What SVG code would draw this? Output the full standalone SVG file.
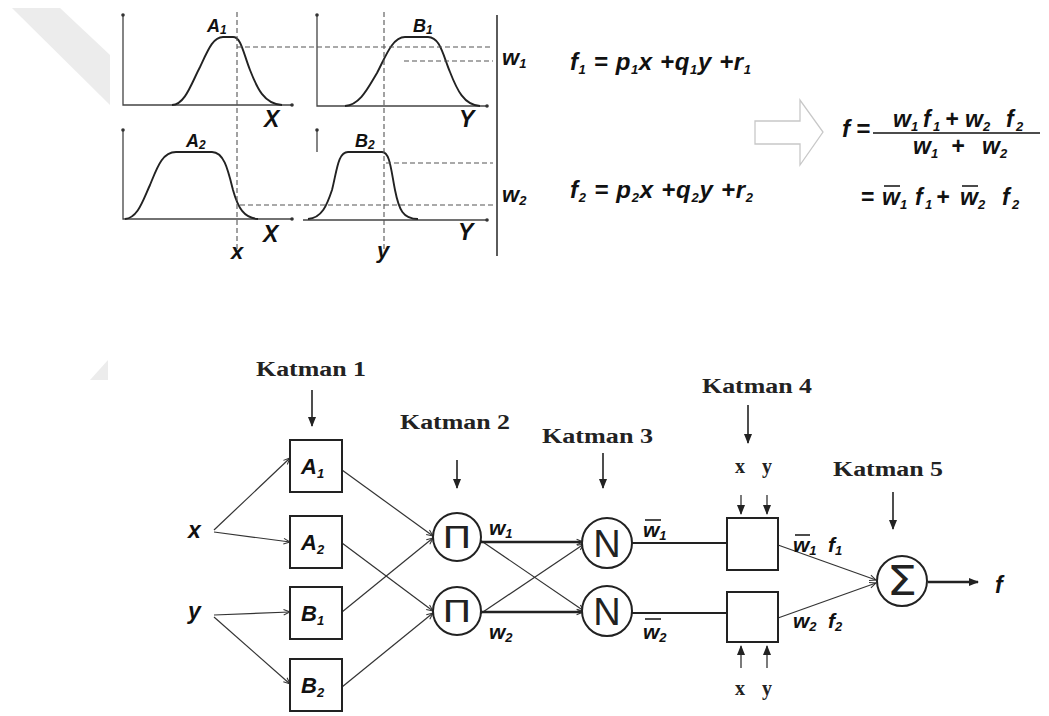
<svg xmlns="http://www.w3.org/2000/svg" width="1049" height="716" viewBox="0 0 1049 716">
<defs>
<style>
.wm{fill:#ececec}
.ax{stroke:#444;stroke-width:1.3;fill:none}
.crv{stroke:#222;stroke-width:1.9;fill:none}
.dash{stroke:#555;stroke-width:1.1;stroke-dasharray:5 3;fill:none}
.bi{font-family:"Liberation Sans",Arial,sans-serif;font-weight:bold;font-style:italic;fill:#111}
.sub{font-size:13px}
.kat{font-family:"Liberation Serif","Times New Roman",serif;font-weight:bold;font-size:20px;fill:#222}
.node{fill:#fff;stroke:#222;stroke-width:2}
.ln{stroke:#333;stroke-width:1.2;fill:none}
.thick{stroke:#222;stroke-width:2.6;fill:none}
.med{stroke:#222;stroke-width:1.8;fill:none}
.bar{stroke:#111;stroke-width:1.5}
.sym{fill:#222}
</style>
<marker id="open" viewBox="0 0 10 10" refX="9" refY="5" markerWidth="8" markerHeight="8" orient="auto" markerUnits="userSpaceOnUse"><path d="M1,1.5 L9,5 L1,8.5" fill="none" stroke="#333" stroke-width="1.3"/></marker>
<marker id="solid" viewBox="0 0 10 10" refX="9" refY="5" markerWidth="10" markerHeight="10" orient="auto" markerUnits="userSpaceOnUse"><path d="M0,1 L10,5 L0,9 z" fill="#222"/></marker>
</defs>
<rect width="1049" height="716" fill="#fff"/>
<polygon class="wm" points="12,8 60,8 110,55 110,105"/>
<polygon class="wm" points="108,360 108,380 90,380"/>

<g id="fuzzy-graphs">
<path class="ax" d="M123,15 V105 H292"/>
<path class="ax" d="M317,15 V106 H487"/>
<path class="ax" d="M123,130 V219 H292"/>
<path class="ax" d="M317,130 V152 M303,220 H487"/>
<g fill="#333"><circle cx="123" cy="15" r="1.8"/><circle cx="317" cy="15" r="1.8"/><circle cx="123" cy="130" r="1.8"/><circle cx="317" cy="130" r="1.8"/><circle cx="292" cy="105" r="1.8"/><circle cx="487" cy="106" r="1.8"/><circle cx="292" cy="219" r="1.8"/><circle cx="487" cy="220" r="1.8"/></g>
<path class="crv" d="M172,105 C185,105 192,82 200,67 C208,50 213,37 223,37 L233,37 C241,37 243,52 250,70 C257,88 264,104 282,105"/>
<path class="crv" d="M345,106 C360,105 368,88 377,73 C385,58 392,37 405,37 L428,37 C440,37 443,55 450,72 C457,90 464,105 480,106"/>
<path class="crv" d="M125,219 C138,218 143,200 150,185 C157,168 162,152 176,152 L212,152 C224,152 228,170 233,190 C238,208 244,218 258,219"/>
<path class="crv" d="M308,219 C322,218 327,205 332,190 C337,170 338,152 348,152 L382,152 C390,152 391,170 395,190 C399,210 403,219 418,219"/>
<path class="dash" d="M237,12 V250 M384,12 V252 M237,47 H493 M404,61 H493 M386,163 H493 M240,205 H493"/>
<path d="M497,15 V256" stroke="#333" stroke-width="1.6"/>
<text class="bi" font-size="18" x="207" y="32">A<tspan font-size="12" dy="2">1</tspan></text>
<text class="bi" font-size="18" x="413" y="32">B<tspan font-size="12" dy="2">1</tspan></text>
<text class="bi" font-size="18" x="186" y="147">A<tspan font-size="12" dy="2">2</tspan></text>
<text class="bi" font-size="18" x="355" y="147">B<tspan font-size="12" dy="2">2</tspan></text>
<text class="bi" font-size="23" x="264" y="127">X</text>
<text class="bi" font-size="23" x="459" y="127">Y</text>
<text class="bi" font-size="23" x="263" y="242">X</text>
<text class="bi" font-size="23" x="458" y="240">Y</text>
<text class="bi" font-size="22" x="231" y="259">x</text>
<text class="bi" font-size="22" x="377" y="258">y</text>
<text class="bi" font-size="22" x="502" y="65">w<tspan font-size="13" dy="3">1</tspan></text>
<text class="bi" font-size="22" x="502" y="202">w<tspan font-size="13" dy="3">2</tspan></text>
</g>

<g id="formulas">
<text class="bi" font-size="24" x="570" y="70" textLength="181" lengthAdjust="spacing">f<tspan class="sub" dy="4">1</tspan><tspan dy="-4"> = p</tspan><tspan class="sub" dy="4">1</tspan><tspan dy="-4">x +q</tspan><tspan class="sub" dy="4">1</tspan><tspan dy="-4">y +r</tspan><tspan class="sub" dy="4">1</tspan></text>
<text class="bi" font-size="24" x="570" y="198" textLength="183" lengthAdjust="spacing">f<tspan class="sub" dy="4">2</tspan><tspan dy="-4"> = p</tspan><tspan class="sub" dy="4">2</tspan><tspan dy="-4">x +q</tspan><tspan class="sub" dy="4">2</tspan><tspan dy="-4">y +r</tspan><tspan class="sub" dy="4">2</tspan></text>
<polygon points="755,121 800,121 800,100 823,132 800,165 800,144 755,144" fill="none" stroke="#c8c8c8" stroke-width="1.3"/>
<text class="bi" font-size="24" x="842" y="137">f</text>
<text class="bi" font-size="24" x="856" y="137" font-style="normal">=</text>
<path d="M873,133 H1040" stroke="#111" stroke-width="1.5"/>
<text class="bi" font-size="23" y="127"><tspan x="893">w</tspan><tspan class="sub" x="911" dy="4">1</tspan><tspan x="923" dy="-4">f</tspan><tspan class="sub" x="933" dy="4">1</tspan><tspan x="945" dy="-4">+</tspan><tspan x="965">w</tspan><tspan class="sub" x="983" dy="4">2</tspan><tspan x="1006" dy="-4">f</tspan><tspan class="sub" x="1016" dy="4">2</tspan></text>
<text class="bi" font-size="23" y="154"><tspan x="913">w</tspan><tspan class="sub" x="931" dy="4">1</tspan><tspan x="951" dy="-4">+</tspan><tspan x="982">w</tspan><tspan class="sub" x="1000" dy="4">2</tspan></text>
<text class="bi" font-size="23" y="205"><tspan x="861" font-style="normal">=</tspan><tspan x="882">w</tspan><tspan class="sub" x="900" dy="4">1</tspan><tspan x="915" dy="-4">f</tspan><tspan class="sub" x="925" dy="4">1</tspan><tspan x="936" dy="-4">+</tspan><tspan x="960">w</tspan><tspan class="sub" x="978" dy="4">2</tspan><tspan x="1002" dy="-4">f</tspan><tspan class="sub" x="1012" dy="4">2</tspan></text>
<path class="bar" d="M884,186 H900 M962,186 H978"/>
</g>

<g id="layer-labels">
<text class="kat" x="256" y="376" textLength="110" lengthAdjust="spacingAndGlyphs">Katman 1</text>
<text class="kat" x="400" y="429" textLength="110" lengthAdjust="spacingAndGlyphs">Katman 2</text>
<text class="kat" x="542" y="443" textLength="111" lengthAdjust="spacingAndGlyphs">Katman 3</text>
<text class="kat" x="702" y="393" textLength="110" lengthAdjust="spacingAndGlyphs">Katman 4</text>
<text class="kat" x="833" y="476" textLength="110" lengthAdjust="spacingAndGlyphs">Katman 5</text>
<text class="kat" font-size="21" x="735" y="473" textLength="37" lengthAdjust="spacing">x y</text>
<text class="kat" font-size="21" x="735" y="695" textLength="37" lengthAdjust="spacing">x y</text>
</g>

<g id="connectors">
<g stroke="#222" stroke-width="1.6" fill="none" marker-end="url(#solid)">
<path d="M312,390 V426"/>
<path d="M457,460 V488"/>
<path d="M603,453 V488"/>
<path d="M748,405 V443"/>
<path d="M893,492 V529"/>
<path d="M741,495 V514" stroke-width="1.2"/>
<path d="M767,495 V514" stroke-width="1.2"/>
<path d="M741,668 V646" stroke-width="1.2"/>
<path d="M767,668 V646" stroke-width="1.2"/>
</g>
<g class="ln" marker-end="url(#open)">
<path d="M214,530 L290,458"/>
<path d="M214,532 L290,542"/>
<path d="M214,615 L290,612"/>
<path d="M214,617 L290,684"/>
<path d="M342,470 L433,536"/>
<path d="M342,612 L433,538"/>
<path d="M342,543 L433,611"/>
<path d="M342,687 L433,613"/>
<path d="M480,540 L584,611"/>
<path d="M480,614 L584,544"/>
<path d="M778,545 L876,580"/>
<path d="M778,618 L876,583"/>
</g>
<g class="thick">
<path d="M481,542 H583" marker-end="url(#open)"/>
<path d="M481,612 H583" marker-end="url(#open)"/>
<path d="M928,582 H978" marker-end="url(#solid)"/>
</g>
<g class="med">
<path d="M632,543 H727"/>
<path d="M632,613 H727"/>
</g>
</g>

<g id="inputs">
<text class="bi" font-size="23" x="188" y="538">x</text>
<text class="bi" font-size="23" x="188" y="619">y</text>
</g>

<g id="node-A1"><rect class="node" x="290" y="440" width="52" height="52"/><text class="bi" font-size="22" x="301" y="474">A<tspan class="sub" dy="4">1</tspan></text></g>
<g id="node-A2"><rect class="node" x="290" y="516" width="52" height="52"/><text class="bi" font-size="22" x="301" y="550">A<tspan class="sub" dy="4">2</tspan></text></g>
<g id="node-B1"><rect class="node" x="290" y="587" width="52" height="52"/><text class="bi" font-size="22" x="301" y="621">B<tspan class="sub" dy="4">1</tspan></text></g>
<g id="node-B2"><rect class="node" x="290" y="659" width="52" height="52"/><text class="bi" font-size="22" x="301" y="693">B<tspan class="sub" dy="4">2</tspan></text></g>

<g id="node-P1"><circle class="node" cx="457" cy="537" r="24"/><text class="sym" font-family="DejaVu Sans,sans-serif" font-size="30" text-anchor="middle" transform="translate(457,548) scale(1.3,1)">Π</text></g>
<g id="node-P2"><circle class="node" cx="457" cy="611" r="24"/><text class="sym" font-family="DejaVu Sans,sans-serif" font-size="30" text-anchor="middle" transform="translate(457,622) scale(1.3,1)">Π</text></g>
<text class="bi" font-size="21" x="489" y="535">w<tspan font-size="13" dy="3">1</tspan></text>
<text class="bi" font-size="21" x="489" y="639">w<tspan font-size="13" dy="3">2</tspan></text>

<g id="node-N1"><circle class="node" cx="607" cy="543" r="25"/><text class="sym" font-family="Liberation Sans,sans-serif" font-size="38" text-anchor="middle" x="607" y="557">N</text></g>
<g id="node-N2"><circle class="node" cx="607" cy="611" r="25"/><text class="sym" font-family="Liberation Sans,sans-serif" font-size="38" text-anchor="middle" x="607" y="625">N</text></g>
<text class="bi" font-size="21" x="643" y="537">w<tspan font-size="13" dy="3">1</tspan></text>
<path class="bar" d="M645,520 H661"/>
<text class="bi" font-size="21" x="643" y="639">w<tspan font-size="13" dy="3">2</tspan></text>
<path class="bar" d="M645,619 H661"/>

<g id="node-L4a"><rect class="node" x="727" y="518" width="51" height="52"/></g>
<g id="node-L4b"><rect class="node" x="727" y="592" width="51" height="50"/></g>
<text class="bi" font-size="21" x="793" y="552">w<tspan font-size="13" dy="3">1</tspan><tspan x="828" dy="-3">f</tspan><tspan font-size="13" dy="3">1</tspan></text>
<path class="bar" d="M795,535 H810"/>
<text class="bi" font-size="21" x="793" y="628">w<tspan font-size="13" dy="3">2</tspan><tspan x="828" dy="-3">f</tspan><tspan font-size="13" dy="3">2</tspan></text>

<g id="node-Sum"><circle class="node" cx="902" cy="581" r="25"/><text class="sym" font-family="DejaVu Sans,sans-serif" font-size="40" text-anchor="middle" transform="translate(902,595) scale(1.2,1)">Σ</text></g>
<g id="output"><text class="bi" font-size="23" x="995" y="593">f</text></g>
</svg>
